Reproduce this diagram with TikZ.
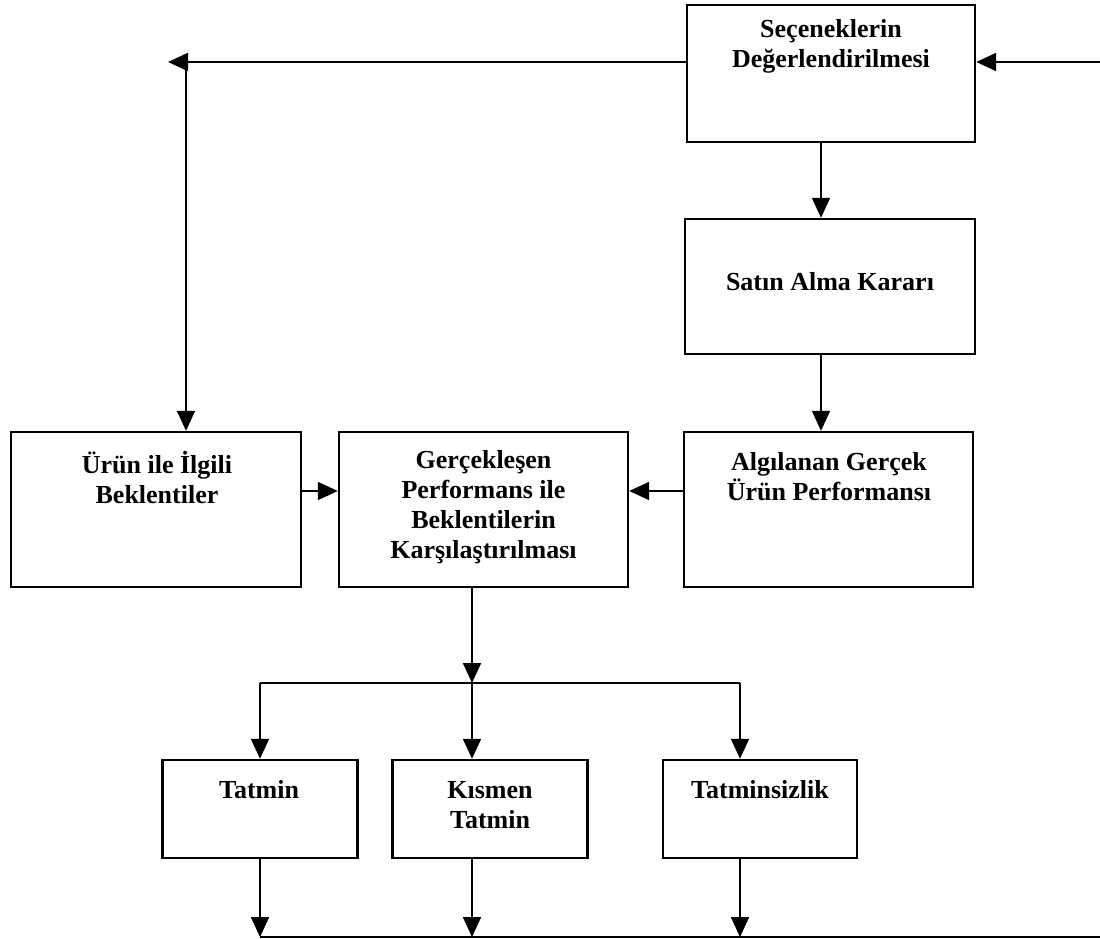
\documentclass[tikz,border=0pt]{standalone}
\usepackage{fontspec}
\setmainfont{Liberation Serif}
\usepackage{tikz}
\usetikzlibrary{arrows.meta}

\begin{document}
\begin{tikzpicture}[x=1pt,y=-1pt,
    box/.style={draw,line width=2.4pt,inner sep=0pt},
    lbl/.style={font=\bfseries\fontsize{26}{30}\selectfont,align=center,inner sep=0pt},
    arr/.style={line width=1.8pt,-{Triangle[length=20pt,width=18pt]}}]
    \useasboundingbox (0,0) rectangle (1100,939);

    \node[box,minimum width=288pt,minimum height=137pt] (sec) at (831,73.5) {};
    \node[box,minimum width=290pt,minimum height=135pt] (satin) at (830,286.5) {};
    \node[box,minimum width=290pt,minimum height=155pt] (urun) at (156,509.5) {};
    \node[box,minimum width=289pt,minimum height=155pt] (gerc) at (483.5,509.5) {};
    \node[box,minimum width=289pt,minimum height=155pt] (alg) at (828.5,509.5) {};
    \node[box,minimum width=195pt,minimum height=98pt] (tatmin) at (260,809) {};
    \node[box,minimum width=195pt,minimum height=98pt] (kismen) at (490,809) {};
    \node[box,minimum width=194pt,minimum height=98pt] (tsiz) at (760,809) {};

    \node[lbl] (sec-t) at (831,46) {Seçeneklerin\\Değerlendirilmesi};
    \node[lbl] (satin-t) at (830,282) {Satın Alma Kararı};
    \node[lbl] (urun-t) at (157,477) {Ürün ile İlgili\\Beklentiler};
    \node[lbl] (gerc-t) at (483.5,507) {Gerçekleşen\\Performans ile\\Beklentilerin\\Karşılaştırılması};
    \node[lbl] (alg-t) at (829,477) {Algılanan Gerçek\\Ürün Performansı};
    \node[lbl] (tatmin-t) at (259,790) {Tatmin};
    \node[lbl] (kismen-t) at (490,805) {Kısmen\\Tatmin};
    \node[lbl] (tsiz-t) at (760,790) {Tatminsizlik};

    \coordinate (looptop) at (1100,62);
    \coordinate (ltip) at (168,62);
    \coordinate (lcorner) at (186,62);
    \coordinate (vcol) at (821,0);
    \coordinate (midrow) at (0,491);
    \coordinate (b1) at (260,683);
    \coordinate (b2) at (472,683);
    \coordinate (b3) at (740,683);
    \coordinate (t1) at (260,937);
    \coordinate (t2) at (472,937);
    \coordinate (t3) at (740,937);
    \coordinate (loopbot) at (1100,937);

    \draw[arr] (looptop) -- (sec.east |- looptop);
    \draw[arr] (sec.west |- ltip) -- (ltip);
    \draw[arr] (lcorner) -- (urun.north -| lcorner);
    \draw[arr] (sec.south -| vcol) -- (satin.north -| vcol);
    \draw[arr] (satin.south -| vcol) -- (alg.north -| vcol);
    \draw[arr] (urun.east |- midrow) -- (gerc.west |- midrow);
    \draw[arr] (alg.west |- midrow) -- (gerc.east |- midrow);
    \draw[arr] (gerc.south -| b2) -- (b2);
    \draw[line width=1.8pt] (b1) -- (b3);
    \foreach \i/\n in {1/tatmin,2/kismen,3/tsiz} {
      \draw[arr] (b\i) -- (\n.north -| b\i);
      \draw[arr] (\n.south -| t\i) -- (t\i);
    }
    \draw[line width=1.8pt] (t1) -- (loopbot);
  \end{tikzpicture}
\end{document}
